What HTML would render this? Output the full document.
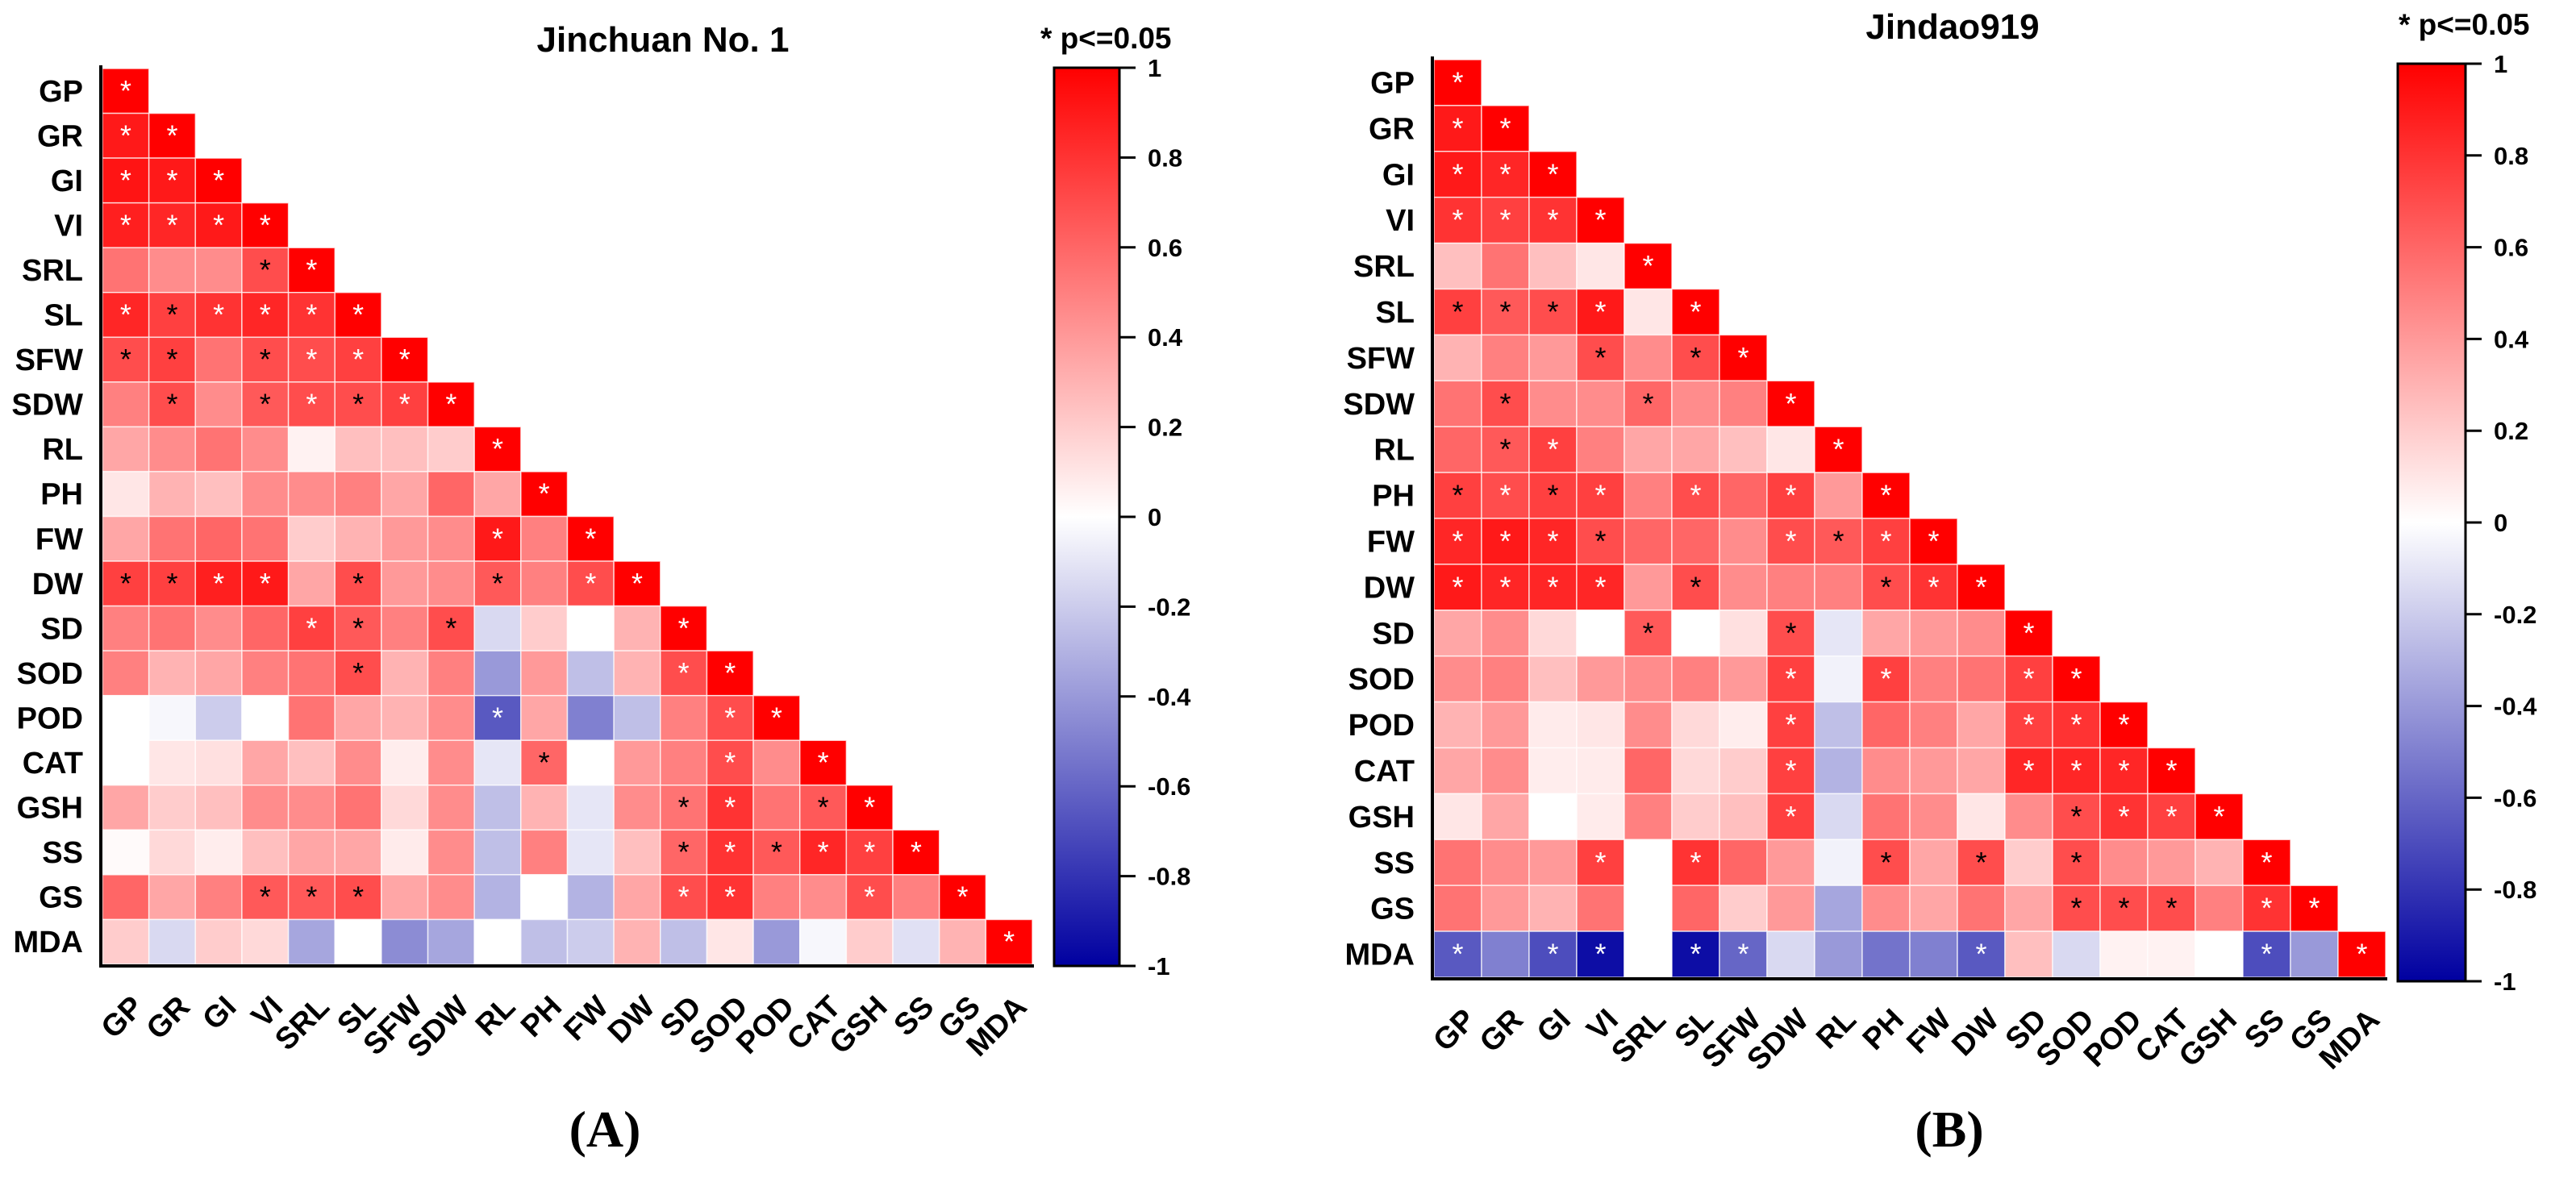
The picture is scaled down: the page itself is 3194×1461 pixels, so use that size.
<!DOCTYPE html>
<html><head><meta charset="utf-8">
<style>
html,body{margin:0;padding:0;background:#fff;}
svg{display:block;}
text{font-family:"Liberation Sans",Arial,sans-serif;}
</style></head>
<body>
<svg id="fig" width="3194" height="1461" viewBox="0 0 3194 1461" xmlns="http://www.w3.org/2000/svg">
<defs>
<linearGradient id="cbgrad" x1="0" y1="0" x2="0" y2="1">
<stop offset="0" stop-color="#ff0000"/>
<stop offset="0.5" stop-color="#ffffff"/>
<stop offset="1" stop-color="#0000a0"/>
</linearGradient>
</defs>
</svg>
<script>
const labels = ["GP","GR","GI","VI","SRL","SL","SFW","SDW","RL","PH","FW","DW","SD","SOD","POD","CAT","GSH","SS","GS","MDA"];
const cbTicks = [1,0.8,0.6,0.4,0.2,0,-0.2,-0.4,-0.6,-0.8,-1];
const cbTickLabels = ["1","0.8","0.6","0.4","0.2","0","-0.2","-0.4","-0.6","-0.8","-1"];

const valsA = [
[],
[0.9],
[0.92,0.9],
[0.88,0.85,0.9],
[0.55,0.45,0.45,0.7],
[0.85,0.75,0.8,0.85,0.8],
[0.7,0.75,0.55,0.7,0.7,0.75],
[0.5,0.7,0.45,0.65,0.7,0.7,0.75],
[0.35,0.45,0.55,0.45,0.05,0.25,0.25,0.2],
[0.1,0.3,0.25,0.45,0.45,0.5,0.35,0.6,0.35],
[0.35,0.55,0.6,0.55,0.2,0.3,0.4,0.45,0.9,0.5],
[0.75,0.75,0.88,0.9,0.35,0.7,0.4,0.45,0.65,0.5,0.7],
[0.5,0.55,0.45,0.6,0.75,0.65,0.5,0.7,-0.15,0.2,0.0,0.3],
[0.5,0.3,0.35,0.5,0.55,0.7,0.3,0.5,-0.4,0.4,-0.25,0.3,0.7],
[0.0,-0.03,-0.2,0.0,0.55,0.35,0.3,0.45,-0.65,0.35,-0.5,-0.25,0.5,0.7],
[0.0,0.1,0.12,0.35,0.25,0.45,0.07,0.45,-0.1,0.6,0.0,0.4,0.5,0.7,0.45],
[0.35,0.2,0.25,0.45,0.45,0.55,0.15,0.45,-0.25,0.3,-0.1,0.45,0.55,0.8,0.55,0.65],
[0.02,0.15,0.07,0.25,0.35,0.35,0.08,0.45,-0.25,0.5,-0.1,0.25,0.6,0.8,0.65,0.85,0.75],
[0.6,0.35,0.5,0.65,0.65,0.7,0.35,0.45,-0.3,0.0,-0.3,0.35,0.7,0.8,0.5,0.45,0.7,0.5],
[0.2,-0.15,0.2,0.15,-0.35,0.0,-0.45,-0.35,0.0,-0.25,-0.2,0.3,-0.25,0.1,-0.4,-0.03,0.2,-0.12,0.3]
];
const sigA = [
[],
["w"],
["w","w"],
["w","w","w"],
["","","","b"],
["w","b","w","w","w"],
["b","b","","b","w","w"],
["","b","","b","w","b","w"],
["","","","","","","",""],
["","","","","","","","",""],
["","","","","","","","","w",""],
["b","b","w","w","","b","","","b","","w"],
["","","","","w","b","","b","","","",""],
["","","","","","b","","","","","","","w"],
["","","","","","","","","w","","","","","w"],
["","","","","","","","","","b","","","","w",""],
["","","","","","","","","","","","","b","w","","b"],
["","","","","","","","","","","","","b","w","b","w","w"],
["","","","b","b","b","","","","","","","w","w","","","w",""],
["","","","","","","","","","","","","","","","","","",""]
];

const valsB = [
[],
[0.9],
[0.9,0.85],
[0.8,0.75,0.8],
[0.25,0.55,0.25,0.1],
[0.75,0.65,0.7,0.9,0.1],
[0.3,0.5,0.4,0.7,0.45,0.7],
[0.55,0.7,0.45,0.45,0.6,0.45,0.5],
[0.6,0.65,0.75,0.5,0.35,0.35,0.25,0.1],
[0.75,0.7,0.75,0.75,0.5,0.7,0.6,0.75,0.4],
[0.85,0.9,0.85,0.7,0.6,0.6,0.45,0.7,0.65,0.75],
[0.9,0.85,0.85,0.85,0.4,0.7,0.45,0.5,0.5,0.7,0.8],
[0.35,0.45,0.15,0.0,0.65,0.0,0.12,0.7,-0.1,0.35,0.4,0.45],
[0.45,0.5,0.25,0.4,0.45,0.5,0.4,0.75,-0.05,0.75,0.5,0.55,0.75],
[0.3,0.4,0.08,0.1,0.45,0.15,0.07,0.75,-0.25,0.6,0.5,0.35,0.75,0.8],
[0.35,0.45,0.07,0.08,0.6,0.15,0.2,0.75,-0.3,0.45,0.4,0.35,0.85,0.85,0.85],
[0.1,0.35,0.0,0.08,0.5,0.2,0.25,0.75,-0.15,0.55,0.45,0.1,0.45,0.7,0.8,0.75],
[0.55,0.45,0.4,0.75,0.0,0.8,0.6,0.4,-0.05,0.7,0.35,0.7,0.2,0.7,0.45,0.4,0.3],
[0.55,0.4,0.3,0.55,0.0,0.6,0.2,0.4,-0.35,0.45,0.35,0.55,0.35,0.7,0.7,0.7,0.5,0.8],
[-0.65,-0.5,-0.7,-0.95,0.0,-0.95,-0.6,-0.15,-0.4,-0.55,-0.5,-0.65,0.25,-0.15,0.05,0.05,0.0,-0.7,-0.4]
];
const sigB = [
[],
["w"],
["w","w"],
["w","w","w"],
["","","",""],
["b","b","b","w",""],
["","","","b","","b"],
["","b","","","b","",""],
["","b","w","","","","",""],
["b","w","b","w","","w","","w",""],
["w","w","w","b","","","","w","b","w"],
["w","w","w","w","","b","","","","b","w"],
["","","","","b","","","b","","","",""],
["","","","","","","","w","","w","","","w"],
["","","","","","","","w","","","","","w","w"],
["","","","","","","","w","","","","","w","w","w"],
["","","","","","","","w","","","","","","b","w","w"],
["","","","w","","w","","","","b","","b","","b","","",""],
["","","","","","","","","","","","","","b","b","b","","w"],
["w","","w","w","","w","w","","","","","w","","","","","","w",""]
];

const NS = "http://www.w3.org/2000/svg";
const svg = document.getElementById("fig");
function el(tag, attrs, parent){
  const e = document.createElementNS(NS, tag);
  for (const k in attrs) e.setAttribute(k, attrs[k]);
  (parent||svg).appendChild(e);
  return e;
}
function color(v){
  let r,g,b;
  if (v >= 0){ r=255; g=Math.round(255*(1-v)); b=g; }
  else { const t=-v; r=Math.round(255*(1-t)); g=r; b=Math.round(255-95*t); }
  return "rgb("+r+","+g+","+b+")";
}

function drawPanel(cfg, vals, sig, prefix){
  const g = el("g", {});
  
  
  const n = labels.length;
  const cw = (cfg.right-cfg.left)/n, ch = (cfg.bottom-cfg.top)/n;
  const xs = i => cfg.left + i*cw;
  const ys = i => cfg.top + i*ch;
  for (let i=0;i<n;i++){
    for (let j=0;j<=i;j++){
      const v = (j===i) ? 1 : vals[i][j];
      const s = (j===i) ? "w" : sig[i][j];
      const r = el("rect", {x:xs(j), y:ys(i), width:cw, height:ch, fill:color(v), stroke:"rgba(255,255,255,0.7)", "stroke-width":1.5}, g);
      
      
      if (s){
        const t = el("text", {x:xs(j)+cw/2, y:ys(i)+ch/2+12, "text-anchor":"middle", "font-size":36, fill:(s==="w"?"#fff":"#000")}, g);
        t.textContent = "*";
        
        
      }
    }
    const rl = el("text", {x:cfg.left-24, y:ys(i)+ch/2+13, "text-anchor":"end", "font-size":38, "font-weight":"bold"}, g);
    rl.textContent = labels[i];
    
    
    const cx = xs(i)+cw/2+24, cy = cfg.bottom+55;
    const cl = el("text", {x:cx, y:cy, "text-anchor":"end", "font-size":38, "font-weight":"bold", transform:"rotate(-45 "+cx+" "+cy+")"}, g);
    cl.textContent = labels[i];
    
    
  }
  const ax = el("path", {d:"M"+(cfg.left-2)+" "+(cfg.top-4)+" V"+(cfg.bottom+2)+" H"+(cfg.right+2), fill:"none", stroke:"#000", "stroke-width":4}, g);
  
  
  const cb = el("rect", {x:cfg.cbL, y:cfg.cbT, width:cfg.cbR-cfg.cbL, height:cfg.cbB-cfg.cbT, fill:"url(#cbgrad)", stroke:"#000", "stroke-width":3}, g);
  
  
  const cby = v => cfg.cbT + (1-v)/2*(cfg.cbB-cfg.cbT);
  for (let k=0;k<cbTicks.length;k++){
    const y = cby(cbTicks[k]);
    const tl = el("line", {x1:cfg.cbR, x2:cfg.cbR+20, y1:y, y2:y, stroke:"#000", "stroke-width":3}, g);
    
    
    const tt = el("text", {x:cfg.cbR+35, y:y+11, "font-size":31, "font-weight":"bold"}, g);
    tt.textContent = cbTickLabels[k];
    
    
  }
  const ti = el("text", {x:cfg.titleX, y:cfg.titleY, "text-anchor":"middle", "font-size":44, "font-weight":"bold"}, g);
  ti.textContent = cfg.title;
  
  
  const pv = el("text", {x:cfg.pX, y:cfg.pY, "font-size":37, "font-weight":"bold"}, g);
  pv.textContent = "* p<=0.05";
  
  
  const pl = el("text", {x:cfg.plX, y:1422, "text-anchor":"middle", "font-size":64, "font-weight":"bold", style:"font-family:'Liberation Serif',serif"}, g);
  pl.textContent = cfg.panel;
  
  
}

drawPanel({left:127,right:1280,top:85,bottom:1196,cbL:1307,cbR:1388,cbT:84,cbB:1198,
  title:"Jinchuan No. 1",titleX:822,titleY:64,pX:1290,pY:60,plX:750,panel:"(A)"}, valsA, sigA, "jinchuan");
drawPanel({left:1778,right:2958,top:74,bottom:1212,cbL:2973,cbR:3057,cbT:79,cbB:1217,
  title:"Jindao919",titleX:2421,titleY:48,pX:2974,pY:43,plX:2417,panel:"(B)"}, valsB, sigB, "jindao");
</script>
</body></html>
